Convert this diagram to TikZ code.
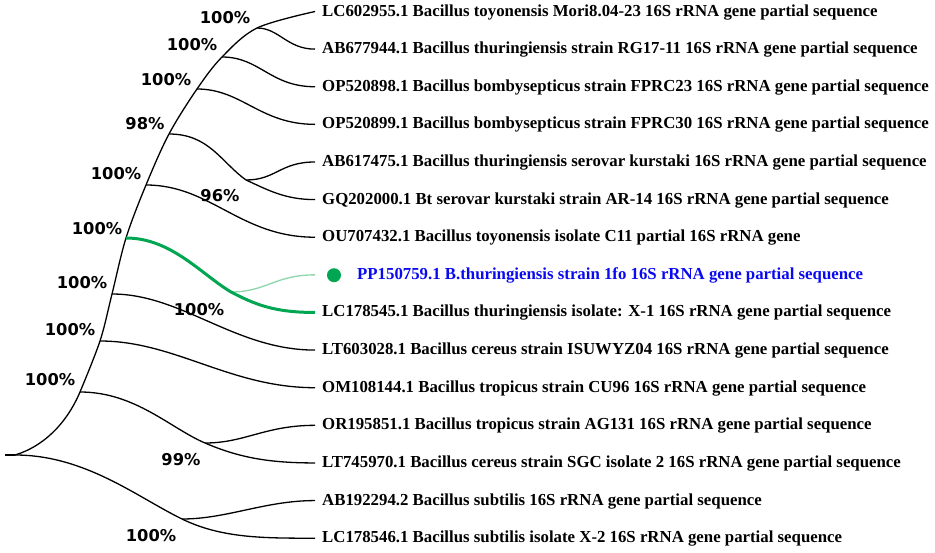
\documentclass[tikz,border=0pt]{standalone}
\usepackage{fontspec}
\setmainfont{Liberation Serif}
\newfontfamily\lblfont{DejaVu Sans}
\definecolor{tgreen}{RGB}{0,166,81}
\definecolor{lgreen}{RGB}{140,215,170}
\definecolor{tblue}{RGB}{10,10,240}
\begin{document}
\begin{tikzpicture}[x=1pt,y=-1pt,
  br/.style={line width=1.3pt, black},
  gbr/.style={line width=3pt, tgreen},
  lgbr/.style={line width=1.3pt, lgreen},
  leaf/.style={anchor=base west, inner sep=0pt, font=\fontsize{16.8}{18}\selectfont\bfseries},
  boot/.style={inner sep=0pt, font=\lblfont\fontsize{16.3}{18}\selectfont\bfseries}]
\useasboundingbox (0,0) rectangle (935,552);
% backbone nodes
\coordinate (tip) at (5,455);
\coordinate (r) at (15,455);
\coordinate (b1) at (80,392);
\coordinate (b2) at (100,341);
\coordinate (b3) at (112,294);
\coordinate (b4) at (126,238);
\coordinate (b5) at (146,185);
\coordinate (b6) at (169,134);
\coordinate (b7) at (197,89);
\coordinate (b8) at (222,57);
\coordinate (b9) at (257,28);
% sub nodes
\coordinate (s96) at (246,180);
\coordinate (sG) at (231,292);
\coordinate (s99) at (205,443);
\coordinate (sB) at (182,519);
% leaf line ends
\foreach \i in {0,...,14}{\coordinate (e\i) at (315,{11.5+37.62*\i});}
% leaf texts
\node[leaf] (t0) at (322,{11.5+37.62*0+4.5}) {LC602955.1 Bacillus toyonensis Mori8.04-23 16S rRNA gene partial sequence};
\node[leaf] (t1) at (322,{11.5+37.62*1+4.5}) {AB677944.1 Bacillus thuringiensis strain RG17-11 16S rRNA gene partial sequence};
\node[leaf] (t2) at (322,{11.5+37.62*2+4.5}) {OP520898.1 Bacillus bombysepticus strain FPRC23 16S rRNA gene partial sequence};
\node[leaf] (t3) at (322,{11.5+37.62*3+4.5}) {OP520899.1 Bacillus bombysepticus strain FPRC30 16S rRNA gene partial sequence};
\node[leaf] (t4) at (322,{11.5+37.62*4+4.5}) {AB617475.1 Bacillus thuringiensis serovar kurstaki 16S rRNA gene partial sequence};
\node[leaf] (t5) at (322,{11.5+37.62*5+4.5}) {GQ202000.1 Bt serovar kurstaki strain AR-14 16S rRNA gene partial sequence};
\node[leaf] (t6) at (322,{11.5+37.62*6+4.5}) {OU707432.1 Bacillus toyonensis isolate C11 partial 16S rRNA gene};
\node[leaf, text=tblue] (t7) at (357,{11.5+37.62*7+4.5}) {PP150759.1 B.thuringiensis strain 1fo 16S rRNA gene partial sequence};
\node[leaf] (t8) at (322,{11.5+37.62*8+4.5}) {LC178545.1 Bacillus thuringiensis isolate: X-1 16S rRNA gene partial sequence};
\node[leaf] (t9) at (322,{11.5+37.62*9+4.5}) {LT603028.1 Bacillus cereus strain ISUWYZ04 16S rRNA gene partial sequence};
\node[leaf] (t10) at (322,{11.5+37.62*10+4.5}) {OM108144.1 Bacillus tropicus strain CU96 16S rRNA gene partial sequence};
\node[leaf] (t11) at (322,{11.5+37.62*11+4.5}) {OR195851.1 Bacillus tropicus strain AG131 16S rRNA gene partial sequence};
\node[leaf] (t12) at (322,{11.5+37.62*12+4.5}) {LT745970.1 Bacillus cereus strain SGC isolate 2 16S rRNA gene partial sequence};
\node[leaf] (t13) at (322,{11.5+37.62*13+4.5}) {AB192294.2 Bacillus subtilis 16S rRNA gene partial sequence};
\node[leaf] (t14) at (322,{11.5+37.62*14+4.5}) {LC178546.1 Bacillus subtilis isolate X-2 16S rRNA gene partial sequence};
\node[circle, fill=tgreen, inner sep=0pt, minimum size=14pt] (dot) at (334,275.2) {};
% branches
\draw[br] (tip) -- (r);
\draw[br] (r) .. controls (42,447) and (66,425) .. (b1);
\draw[br] plot[smooth, tension=0.55] coordinates {(b1) (b2) (b3) (b4) (b5) (b6) (b7) (b8) (b9) (e0)};
\draw[br] (b9) .. controls +(22,0) and +(-28,0) .. (e1);
\draw[br] (b8) .. controls +(38,0) and +(-45,0) .. (e2);
\draw[br] (b7) .. controls +(45,0) and +(-55,0) .. (e3);
\draw[br] (b6) .. controls +(40,0) and +(-25,-18) .. (s96) .. controls +(22,10) and +(-30,0) .. (e5);
\draw[br] (s96) .. controls +(30,0) and +(-35,0) .. (e4);
\draw[br] (b5) .. controls +(65,0) and +(-75,0) .. (e6);
\draw[lgbr] (sG) .. controls +(35,0) and +(-40,0) .. (e7);
\draw[gbr] (b4) .. controls +(45,0) and +(-30,-18) .. (sG) .. controls +(25,13) and +(-40,0) .. (e8);
\draw[br] (b3) .. controls +(70,0) and +(-80,0) .. (e9);
\draw[br] (b2) .. controls +(75,0) and +(-85,0) .. (e10);
\draw[br] (b1) .. controls +(55,0) and +(-35,-15) .. (s99) .. controls +(35,15) and +(-45,0) .. (e12);
\draw[br] (s99) .. controls +(40,0) and +(-50,0) .. (e11);
\draw[br] (r) .. controls +(70,0) and +(-45,-22) .. (sB) .. controls +(40,19.5) and +(-50,0) .. (e14);
\draw[br] (sB) .. controls +(45,0) and +(-50,0) .. (e13);
% bootstrap labels
\node[boot] (lab1) at (225,18) {100\%};
\node[boot] (lab2) at (192,45) {100\%};
\node[boot] (lab3) at (166,80) {100\%};
\node[boot] (lab4) at (145,124) {98\%};
\node[boot] (lab5) at (116,174) {100\%};
\node[boot] (lab6) at (220,196) {96\%};
\node[boot] (lab7) at (97,229) {100\%};
\node[boot] (lab8) at (82,283) {100\%};
\node[boot] (lab9) at (199,310) {100\%};
\node[boot] (lab10) at (70,330) {100\%};
\node[boot] (lab11) at (50,380) {100\%};
\node[boot] (lab12) at (181,460) {99\%};
\node[boot] (lab13) at (151,536) {100\%};
\end{tikzpicture}
\end{document}
